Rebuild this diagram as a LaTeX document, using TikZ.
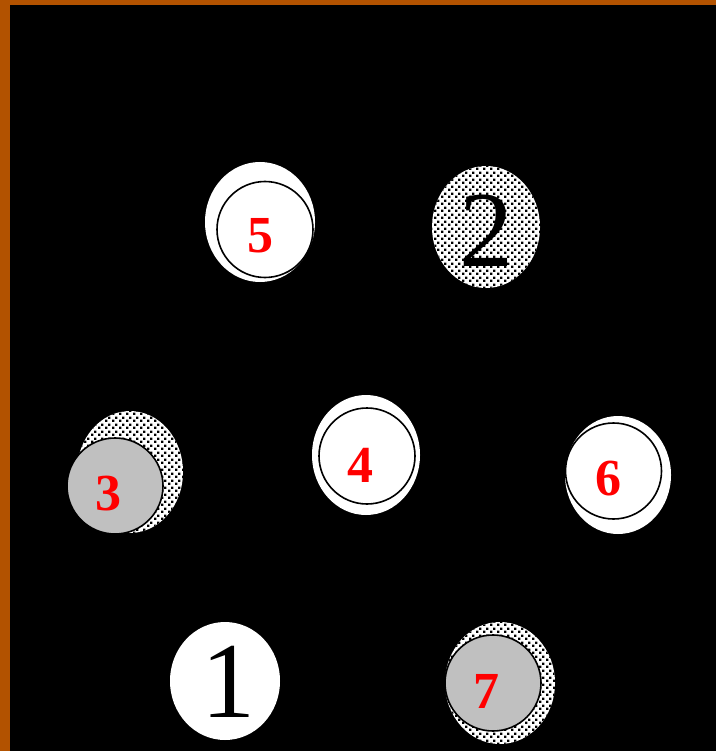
\documentclass[tikz,border=0pt]{standalone}
\usepackage{fontspec}
\setmainfont{Liberation Serif}
\usetikzlibrary{patterns}
\definecolor{frameorange}{RGB}{178,82,0}
\definecolor{discgray}{RGB}{192,192,192}
\pgfdeclarepatternformonly{speckle}{\pgfqpoint{0pt}{0pt}}{\pgfqpoint{7pt}{7pt}}{\pgfqpoint{7pt}{7pt}}{%
  \pgfpathrectangle{\pgfqpoint{0pt}{0pt}}{\pgfqpoint{2.6pt}{2.6pt}}%
  \pgfpathrectangle{\pgfqpoint{3.5pt}{3.5pt}}{\pgfqpoint{2.6pt}{2.6pt}}%
  \pgfusepath{fill}}
\tikzset{
  blob/.style={fill=white},
  speckblob/.style={fill=white, postaction={pattern=speckle, pattern color=black}},
  disc/.style={circle, draw=black, line width=1.6pt, minimum size=96pt, inner sep=0pt},
  whitedisc/.style={disc, fill=white},
  graydisc/.style={disc, fill=discgray},
  redlabel/.style={text=red, font=\fontsize{52}{52}\selectfont\bfseries, inner sep=0pt},
  biglabel/.style={text=black, font=\fontsize{108}{108}\selectfont, inner sep=0pt},
}
\begin{document}
\begin{tikzpicture}[x=1pt,y=-1pt]
\useasboundingbox (0,0) rectangle (716,751);
\fill[frameorange] (0,0) rectangle (716,751);
\fill[black] (10,5) rectangle (716,751);
% background blobs
\fill[blob] (260,222) ellipse [x radius=55, y radius=60];
\fill[speckblob] (486,227) ellipse [x radius=54, y radius=61];
\fill[speckblob] (130,472) ellipse [x radius=53, y radius=61];
\fill[blob] (366,455) ellipse [x radius=54, y radius=60];
\fill[blob] (618,475) ellipse [x radius=53, y radius=59];
\fill[blob] (225,681) ellipse [x radius=55, y radius=59];
\fill[speckblob] (500,683) ellipse [x radius=55, y radius=61];
% discs
\node[whitedisc] (c5) at (265,229.5) {};
\node[graydisc]  (c3) at (115,486) {};
\node[whitedisc] (c4) at (367,456) {};
\node[whitedisc] (c6) at (613.5,471) {};
\node[graydisc]  (c7) at (493,683) {};
% labels
\node[redlabel] (l5) at (260,236) {5};
\node[redlabel] (l3) at (108,494) {3};
\node[redlabel] (l4) at (360,465) {4};
\node[redlabel] (l6) at (608,479) {6};
\node[redlabel] (l7) at (486,691) {7};
\node[biglabel] (l2) at (486,231) {2};
\node[biglabel] (l1) at (228,682) {1};
\end{tikzpicture}
\end{document}
